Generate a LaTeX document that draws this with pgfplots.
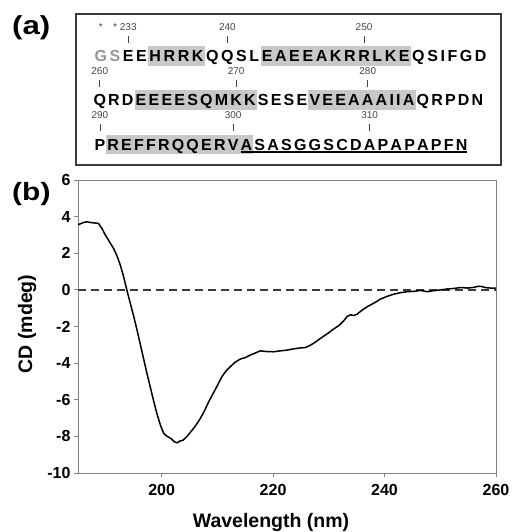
\documentclass[border=0pt]{standalone}
\usepackage{fontspec}
\setmainfont{Liberation Sans}
\usepackage{graphicx}
\usepackage{pgfplots}
\pgfplotsset{compat=1.18}
\usetikzlibrary{calc,backgrounds}
\definecolor{hl}{RGB}{200,200,200}
\definecolor{gsgray}{RGB}{150,150,150}
\definecolor{numc}{RGB}{70,70,70}
\definecolor{boxc}{RGB}{60,60,60}
\definecolor{axc}{RGB}{130,130,130}
\definecolor{dashc}{RGB}{60,60,60}
\newcommand\gr[1]{\textcolor{gsgray}{#1}}
\tikzset{seq/.style={font=\fontsize{16}{16}\selectfont\bfseries, inner ysep=0pt, text=black},
  num/.style={font=\fontsize{10}{10}\selectfont, text=numc, inner sep=0pt, anchor=base}}
\newcommand\seqrow[5]{%
  \foreach \c [count=\i] in {#5}{%
    \ifnum\i=1
      \node[seq, inner xsep=#4, anchor=base west] (#1-\i) at (#2,#3) {\c};
    \else
      \pgfmathtruncatemacro\j{\i-1}%
      \node[seq, inner xsep=#4, anchor=base west] (#1-\i) at (#1-\j.base east) {\c};
    \fi
  }%
}
\newcommand\resnum[3]{% row name, index, number
  \draw[numc, line width=0.6pt] ($(#1-#2.base)+(0,-19)$) -- ($(#1-#2.base)+(0,-26)$);
  \node[num] at ($(#1-#2.base)+(0,-31.3)$) {#3};
}
\newcommand\hilite[3]{%
  \begin{scope}[on background layer]
    \fill[hl] ($(#1-#2.base west)+(0,4)$) rectangle ($(#1-#3.base east)+(0,-15.5)$);
  \end{scope}
}
\begin{document}
\begin{tikzpicture}
\path[use as bounding box] (0,0) rectangle (513pt,-532pt);
\begin{scope}[x=1pt,y=-1pt]
  \node[anchor=base west, inner sep=0pt, font=\fontsize{26}{26}\selectfont\bfseries] at (12,35) {\scalebox{1.2}[1]{(a)}};
  \node[anchor=base west, inner sep=0pt, font=\fontsize{25}{25}\selectfont\bfseries] at (12,200) {\scalebox{1.2}[1]{(b)}};
  \draw[boxc, line width=1.3pt] (76,14) rectangle (501,165);
  \seqrow{ra}{93.3}{62}{1.10pt}{\gr G,\gr S,E,E,H,R,R,K,Q,Q,S,L,E,A,E,E,A,K,R,R,L,K,E,Q,S,I,F,G,D}
  \seqrow{rb}{92.4}{106}{0.91pt}{Q,R,D,E,E,E,E,S,Q,M,K,K,S,E,S,E,V,E,E,A,A,A,I,I,A,Q,R,P,D,N}
  \seqrow{rc}{93.4}{150}{0.91pt}{P,R,E,F,F,R,Q,Q,E,R,V,A,S,A,S,G,G,S,C,D,A,P,A,P,A,P,F,N}
  \hilite{ra}{5}{8}
  \hilite{ra}{13}{23}
  \hilite{rb}{4}{12}
  \hilite{rb}{17}{25}
  \hilite{rc}{2}{12}
  \draw[black, line width=1.5pt] ($(rc-12.base west)+(1,2.2)$) -- ($(rc-28.base east)+(-1,2.2)$);
  \node[num] at ($(ra-1.base)+(0,-31.3)$) {*};
  \node[num] at ($(ra-2.base)+(0,-31.3)$) {*};
  \resnum{ra}{3}{233}
  \resnum{ra}{10}{240}
  \resnum{ra}{20}{250}
  \resnum{rb}{1}{260}
  \resnum{rb}{11}{270}
  \resnum{rb}{21}{280}
  \resnum{rc}{1}{290}
  \resnum{rc}{11}{300}
  \resnum{rc}{21}{310}
  \node[rotate=90, anchor=base, inner sep=0pt, font=\fontsize{19.5}{19.5}\selectfont\bfseries] at (32,324) {CD (mdeg)};
  \node[anchor=base, inner sep=0pt, font=\fontsize{19.5}{19.5}\selectfont\bfseries] at (271,527) {Wavelength (nm)};
\end{scope}
\begin{axis}[
  at={(78pt,-473pt)}, anchor=south west, scale only axis,
  width=418pt, height=293pt,
  xmin=185, xmax=260, ymin=-10, ymax=6,
  xtick={200,220,240,260}, ytick={-10,-8,-6,-4,-2,0,2,4,6},
  tick pos=left, tick align=outside, major tick length=4pt,
  axis line style={axc, line width=1pt},
  tick style={axc, line width=0.9pt},
  /pgf/number format/assume math mode=true,
  ticklabel style={font=\fontsize{16}{16}\selectfont\bfseries},
  xticklabel style={yshift=-4pt},
]
\addplot[dashc, line width=1.4pt, dash pattern=on 8pt off 5pt] coordinates {(185,0) (260,0)};
\addplot[black, line width=1.5pt, line join=round] coordinates {
(185,3.55) (185.5,3.62) (186,3.68) (186.6,3.72) (187.2,3.68) (187.7,3.66) (188.2,3.65) (188.7,3.62)
(189.3,3.35) (189.9,3.0) (190.6,2.65) (191.4,2.25) (192,1.85) (192.6,1.35) (193.2,0.7) (193.8,-0.05)
(194.4,-0.75) (195,-1.45) (195.6,-2.2) (196.2,-3.0) (196.8,-3.8) (197.4,-4.6) (198,-5.35) (198.6,-6.1)
(199.2,-6.8) (199.8,-7.4) (200.4,-7.85) (201,-8.0) (201.7,-8.12) (202.3,-8.3) (202.8,-8.35) (203.3,-8.25)
(203.8,-8.22) (204.4,-8.05) (205,-7.84) (205.9,-7.5) (206.8,-7.1) (207.7,-6.6) (208.6,-6.02) (209.7,-5.4)
(210.8,-4.75) (211.5,-4.45) (212.3,-4.2) (213.2,-3.95) (214.1,-3.78) (215,-3.7) (215.9,-3.56) (216.8,-3.45)
(217.7,-3.33) (218.9,-3.37) (220.1,-3.38) (221.3,-3.33) (222.5,-3.29) (223.7,-3.22) (224.9,-3.17) (225.8,-3.15)
(226.7,-3.02) (227.6,-2.85) (228.5,-2.65) (229.7,-2.4) (230.9,-2.13) (231.8,-1.95) (232.7,-1.68) (233.3,-1.45)
(233.9,-1.36) (234.5,-1.4) (235.1,-1.32) (236,-1.1) (236.9,-0.92) (238.1,-0.72) (239.3,-0.5) (240.5,-0.35)
(241.7,-0.23) (242.9,-0.15) (244.1,-0.1) (245.3,-0.08) (246.5,-0.03) (247.7,-0.1) (248.9,-0.04) (250.1,0.0)
(251.3,0.05) (252.5,0.08) (253.7,0.13) (254.9,0.1) (256.1,0.14) (256.8,0.2) (257.5,0.18) (258.2,0.12)
(259,0.1) (260,0.09)
};
\end{axis}
\end{tikzpicture}
\end{document}
